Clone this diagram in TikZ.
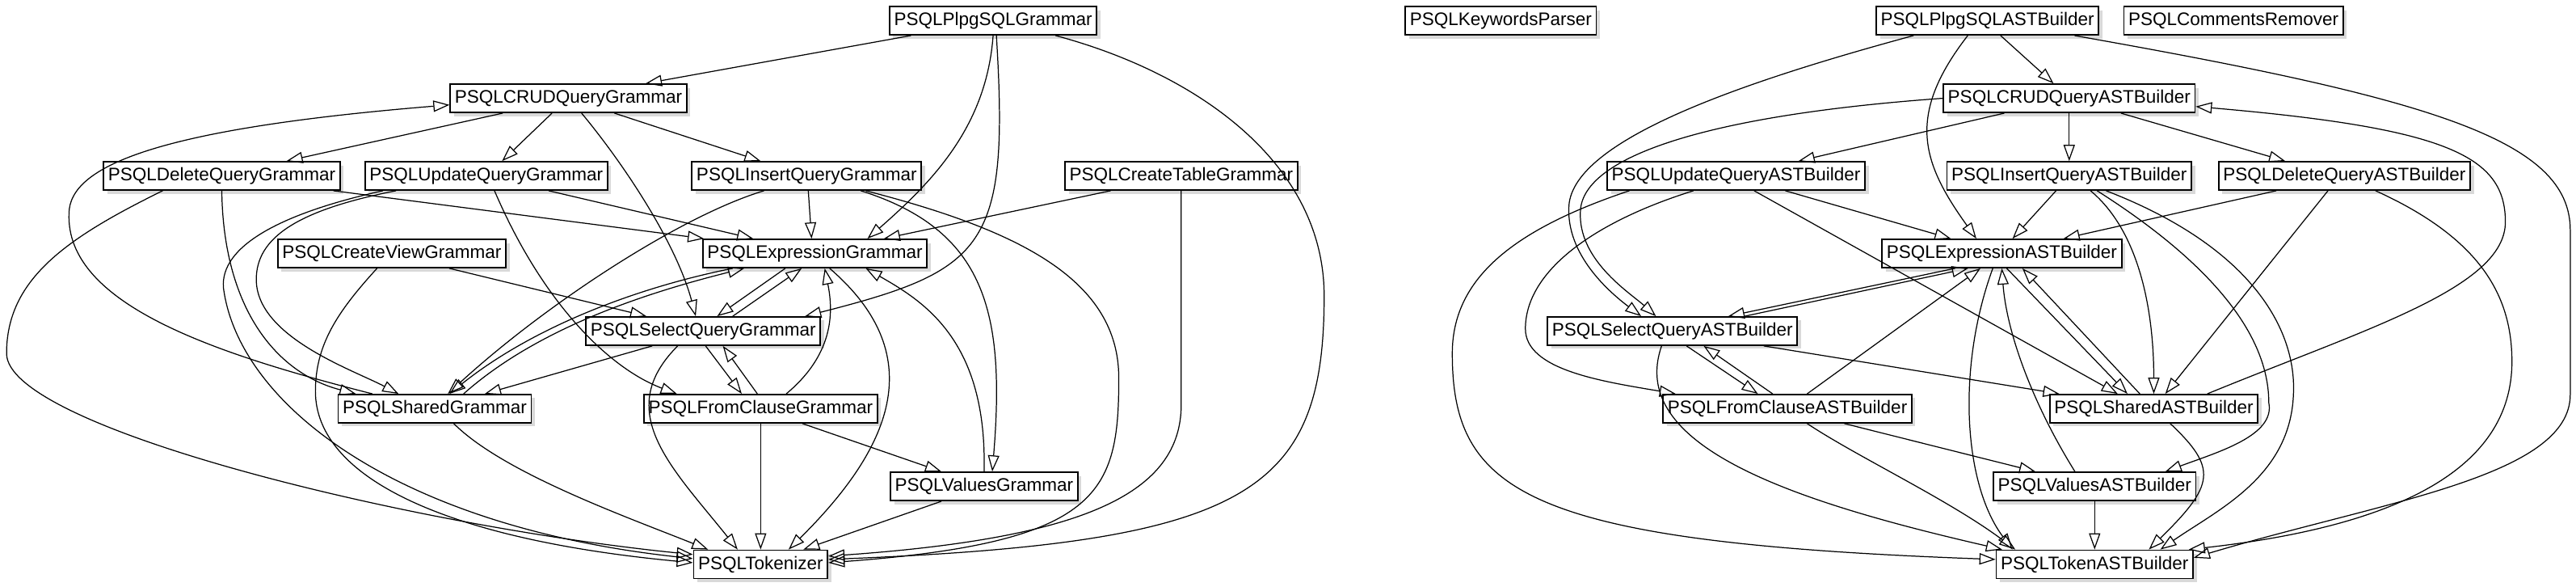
\documentclass[tikz,border=0pt]{standalone}
\usepackage{fontspec}
\newfontfamily\diagfont{Liberation Sans}
\usetikzlibrary{arrows.meta, shadows, calc}

\tikzset{
  cls/.style={draw, line width=0.5pt, fill=white, inner xsep=1.6pt, inner ysep=0pt,
    minimum height=0.35cm, font=\diagfont\fontsize{6.4}{7.6}\selectfont,
    drop shadow={shadow xshift=0.45mm, shadow yshift=-0.45mm, opacity=0.3}},
  dep/.style={line width=0.35pt, -{Triangle[open, length=2mm, width=1.4mm]}}
}

\begin{document}
\begin{tikzpicture}[x=0.020332cm, y=-0.020332cm]
  \useasboundingbox (0,0) rectangle (1568,356.6);

  % grammars
  \node[cls] (plpg)  at (604.5,12.6)  {PSQLPlpgSQLGrammar};
  \node[cls] (crud)  at (346,59.8)    {PSQLCRUDQueryGrammar};
  \node[cls] (del)   at (135,107)     {PSQLDeleteQueryGrammar};
  \node[cls] (upd)   at (296,107)     {PSQLUpdateQueryGrammar};
  \node[cls] (ins)   at (491,107)     {PSQLInsertQueryGrammar};
  \node[cls] (ctab)  at (719,107)     {PSQLCreateTableGrammar};
  \node[cls] (cview) at (238.5,154.2) {PSQLCreateViewGrammar};
  \node[cls] (expr)  at (496,154.2)   {PSQLExpressionGrammar};
  \node[cls] (sel)   at (428,201.4)   {PSQLSelectQueryGrammar};
  \node[cls] (shr)   at (264.6,248.6) {PSQLSharedGrammar};
  \node[cls] (frm)   at (463,248.6)   {PSQLFromClauseGrammar};
  \node[cls] (val)   at (599,295.9)   {PSQLValuesGrammar};
  \node[cls] (tok)   at (463,343.3)   {PSQLTokenizer};

  % AST builders
  \node[cls] (kwp)   at (913.5,12.6)   {PSQLKeywordsParser};
  \node[cls] (plpgb) at (1209.75,12.6) {PSQLPlpgSQLASTBuilder};
  \node[cls] (crm)   at (1359.5,12.6)  {PSQLCommentsRemover};
  \node[cls] (crudb) at (1259.5,59.8)  {PSQLCRUDQueryASTBuilder};
  \node[cls] (updb)  at (1056.75,107)  {PSQLUpdateQueryASTBuilder};
  \node[cls] (insb)  at (1259.5,107)   {PSQLInsertQueryASTBuilder};
  \node[cls] (delb)  at (1427,107)     {PSQLDeleteQueryASTBuilder};
  \node[cls] (exprb) at (1218.5,154.2) {PSQLExpressionASTBuilder};
  \node[cls] (selb)  at (1018,201.4)   {PSQLSelectQueryASTBuilder};
  \node[cls] (frmb)  at (1088,248.6)   {PSQLFromClauseASTBuilder};
  \node[cls] (shrb)  at (1311,248.6)   {PSQLSharedASTBuilder};
  \node[cls] (valb)  at (1275,295.9)   {PSQLValuesASTBuilder};
  \node[cls] (tokb)  at (1275,343.3)   {PSQLTokenASTBuilder};

  \path[dep]
    ($(plpg.south)+(-50,0)$)  edge ($(crud.north)+(47,0)$)
    ($(crud.south)+(-40,0)$)  edge ($(del.north)+(39.4,0)$)
    ($(crud.south)+(-10,0)$)  edge ($(upd.north)+(9.6,0)$)
    ($(crud.south)+(28,0)$)   edge ($(ins.north)+(-28,0)$)
    ($(del.south)+(68,0)$)    edge ($(expr.north)+(-67.5,0)$)
    ($(upd.south)+(38,0)$)    edge ($(expr.north)+(-37.5,0)$)
    ($(ins.south)+(1,0)$)     edge ($(expr.north)+(-2,0)$)
    ($(ctab.south)+(-43,0)$)  edge ($(expr.north)+(42,0)$)
    ($(cview.south)+(35,0)$)  edge ($(sel.north)+(-34.5,0)$)
    ($(expr.south)+(-18,0)$)  edge ($(sel.north)+(8.5,0)$)
    ($(sel.north)+(18,0)$)    edge ($(expr.south)+(-8,0)$)
    ($(sel.south)+(1.5,0)$)   edge ($(frm.north)+(-11.5,0)$)
    ($(frm.north)+(-2,0)$)    edge ($(sel.south)+(12,0)$)
    ($(sel.south)+(-31,0)$)   edge ($(shr.north)+(30.5,0)$)
    ($(frm.south)+(25.4,0)$)  edge ($(val.north)+(-26,0)$)
    (frm.south)               edge (tok.north)
    ($(val.south)+(-26,0)$)   edge ($(tok.north)+(26,0)$);

  \draw[dep] (plpg.south) .. controls +(-4,55) and +(40,-35) .. ($(expr.north)+(32,0)$);
  \draw[dep] ($(plpg.south)+(2,0)$) .. controls +(8,129) and +(110,-28) .. ($(sel.north)+(62,0)$);
  \draw[dep] ($(plpg.south)+(38,0)$) .. controls (730,45) and (806,100) .. (806,180)
    .. controls (806,300) and (760,330) .. ($(tok.east)+(0,-3)$);
  \draw[dep] ($(crud.south)+(8,0)$) .. controls +(25,30) and +(-12,-45) .. ($(sel.north)+(-4.5,0)$);
  \draw[dep] ($(shr.north)+(-38,0)$) .. controls (130,215) and (40,185) .. (42,130)
    .. controls (42,100) and (100,78) .. ($(crud.west)+(0,4)$);
  \draw[dep] (del.south) .. controls +(1,74) and +(-46.6,-12) .. ($(shr.north)+(-48,0)$);
  \draw[dep] ($(del.south)+(-36,0)$) .. controls (40,145) and (4,170) .. (4,215)
    .. controls (4,260) and (250,320) .. ($(tok.west)+(0,-6)$);
  \draw[dep] ($(upd.south)+(-55,0)$) .. controls (180,128) and (156,145) .. (156,170)
    .. controls (156,205) and (215,225) .. ($(shr.north)+(-22,0)$);
  \draw[dep] ($(upd.south)+(-63,0)$) .. controls (170,130) and (134,150) .. (136,175)
    .. controls (145,245) and (240,320) .. ($(tok.west)+(0,-3.5)$);
  \draw[dep] ($(upd.south)+(5,0)$) .. controls +(30,70) and +(-40,-15) .. ($(frm.north)+(-51,0)$);
  \draw[dep] ($(ins.south)+(-26,0)$) .. controls +(-50,15) and +(60,-55) .. ($(shr.north)+(8,0)$);
  \draw[dep] ($(ins.south)+(33,0)$) .. controls (600,140) and (612,190) .. ($(val.north)+(5,0)$);
  \draw[dep] ($(ins.south)+(36,0)$) .. controls (620,140) and (681,170) .. (681,230)
    .. controls (681,300) and (670,330) .. ($(tok.east)+(0,-1)$);
  \draw[dep] (ctab.south) -- ++(0,130) .. controls +(0,54) and +(156,-11) .. ($(tok.east)+(0,-5)$);
  \draw[dep] ($(cview.south)+(-9,0)$) .. controls (205,190) and (192,210) .. (192,238)
    .. controls (192,290) and (270,328) .. ($(tok.west)+(0,-1)$);
  \draw[dep] ($(expr.south)+(-50,0)$) .. controls +(-60,12) and +(50,-40) .. ($(shr.north)+(9,0)$);
  \draw[dep] ($(shr.north)+(17.6,0)$) .. controls +(45,-40) and +(-60,15) .. ($(expr.south)+(-43,0)$);
  \draw[dep] ($(expr.south)+(9,0)$) .. controls (565,215) and (545,270) .. ($(tok.north)+(17,0)$);
  \draw[dep] ($(sel.south)+(-15.5,0)$) .. controls +(-40,40) and +(-40,-50) .. ($(tok.north)+(-14,0)$);
  \draw[dep] ($(frm.north)+(15.6,0)$) .. controls +(30,-25) and +(5,25) .. ($(expr.south)+(6,0)$);
  \draw[dep] (val.north) .. controls +(2,-80) and +(35,20) .. ($(expr.south)+(31,0)$);
  \draw[dep] ($(shr.south)+(11.6,0)$) .. controls +(30,30) and +(-50,-20) .. ($(tok.north)+(-32,0)$);

  \path[dep]
    ($(plpgb.south)+(8,0)$)     edge ($(crudb.north)+(-9.5,0)$)
    ($(crudb.south)+(-39.5,0)$) edge ($(updb.north)+(38,0)$)
    (crudb.south)               edge (insb.north)
    ($(crudb.south)+(31.5,0)$)  edge ($(delb.north)+(-36,0)$)
    ($(updb.south)+(30,0)$)     edge ($(exprb.north)+(-31,0)$)
    ($(updb.south)+(11,0)$)     edge ($(shrb.north)+(-22,0)$)
    ($(insb.south)+(-8,0)$)     edge ($(exprb.north)+(6.5,0)$)
    ($(delb.south)+(-41.5,0)$)  edge ($(exprb.north)+(37.5,0)$)
    ($(delb.south)+(-10,0)$)    edge ($(shrb.north)+(7,0)$)
    ($(exprb.south)+(-28.5,0)$) edge ($(selb.north)+(34,0)$)
    ($(selb.north)+(44,0)$)     edge ($(exprb.south)+(-20.5,0)$)
    ($(exprb.south)+(3,0)$)     edge ($(shrb.north)+(-16,0)$)
    ($(shrb.north)+(-8.5,0)$)   edge ($(exprb.south)+(12.5,0)$)
    ($(selb.south)+(8.6,0)$)    edge ($(frmb.north)+(-18,0)$)
    ($(frmb.north)+(-9,0)$)     edge ($(selb.south)+(19,0)$)
    ($(selb.south)+(55.6,0)$)   edge ($(shrb.north)+(-57.5,0)$)
    ($(frmb.north)+(12,0)$)     edge ($(exprb.south)+(-13,0)$)
    ($(frmb.south)+(34.6,0)$)   edge ($(valb.north)+(-36,0)$)
    (valb.south)                edge (tokb.north);

  \draw[dep] ($(plpgb.south)+(-12,0)$) .. controls +(-38,49) and +(-33,-46) .. ($(exprb.north)+(-15.5,0)$);
  \draw[dep] ($(plpgb.south)+(-45,0)$) .. controls (1060,50) and (958,85) .. (955,125)
    .. controls (953,155) and (980,178) .. ($(selb.north)+(-19,0)$);
  \draw[dep] ($(plpgb.south)+(53,0)$) .. controls (1480,60) and (1564.5,85) .. (1564.5,140)
    -- (1564.5,240) .. controls (1564.5,290) and (1450,305) .. ($(tokb.east)+(0,-4)$);
  \draw[dep] (crudb.west) .. controls (1040,70) and (964,95) .. (962,128)
    .. controls (960,158) and (992,178) .. ($(selb.north)+(-10,0)$);
  \draw[dep] ($(shrb.north)+(32.6,0)$) .. controls (1440,200) and (1525,175) .. (1525,135)
    .. controls (1525,95) and (1490,78) .. ($(crudb.east)+(0,5)$);
  \draw[dep] ($(updb.south)+(-26,0)$) .. controls (970,135) and (928.5,165) .. (928.5,200)
    .. controls (928.5,225) and (975,232) .. ($(frmb.north)+(-68,0)$);
  \draw[dep] ($(updb.south)+(-65,0)$) .. controls (920,140) and (884,170) .. (884,215)
    .. controls (884,300) and (930,330) .. ($(tokb.west)+(0,-3)$);
  \draw[dep] ($(insb.south)+(13,0)$) .. controls +(30,25) and +(0,-50) .. (shrb.north);
  \draw[dep] ($(insb.south)+(17,0)$) .. controls (1330,150) and (1381,195) .. (1381,245)
    .. controls (1385,265) and (1350,275) .. ($(valb.north)+(43,0)$);
  \draw[dep] ($(insb.south)+(22.5,0)$) .. controls (1370,150) and (1398,200) .. (1396,240)
    .. controls (1394,290) and (1350,310) .. ($(tokb.north)+(40,0)$);
  \draw[dep] ($(delb.south)+(19,0)$) .. controls (1510,145) and (1529,180) .. (1529,220)
    .. controls (1529,285) and (1460,320) .. ($(tokb.north east)+(-3,0)$);
  \draw[dep] ($(exprb.south)+(-5.5,0)$) .. controls +(-22,60) and +(-30,-40) .. ($(tokb.north)+(-50,0)$);
  \draw[dep] ($(selb.south)+(-6.6,0)$) .. controls +(-21,60) and +(-131,-30) .. ($(tokb.north west)+(4,0)$);
  \draw[dep] ($(frmb.south)+(12,0)$) .. controls +(30,20) and +(-40,-30) .. ($(tokb.north west)+(12,0)$);
  \draw[dep] ($(valb.north)+(-12,0)$) .. controls +(-25,-40) and +(3,40) .. (exprb.south);
  \draw[dep] ($(shrb.south)+(10,0)$) .. controls (1350,285) and (1348,295) .. ($(tokb.north)+(33,0)$);
\end{tikzpicture}
\end{document}
